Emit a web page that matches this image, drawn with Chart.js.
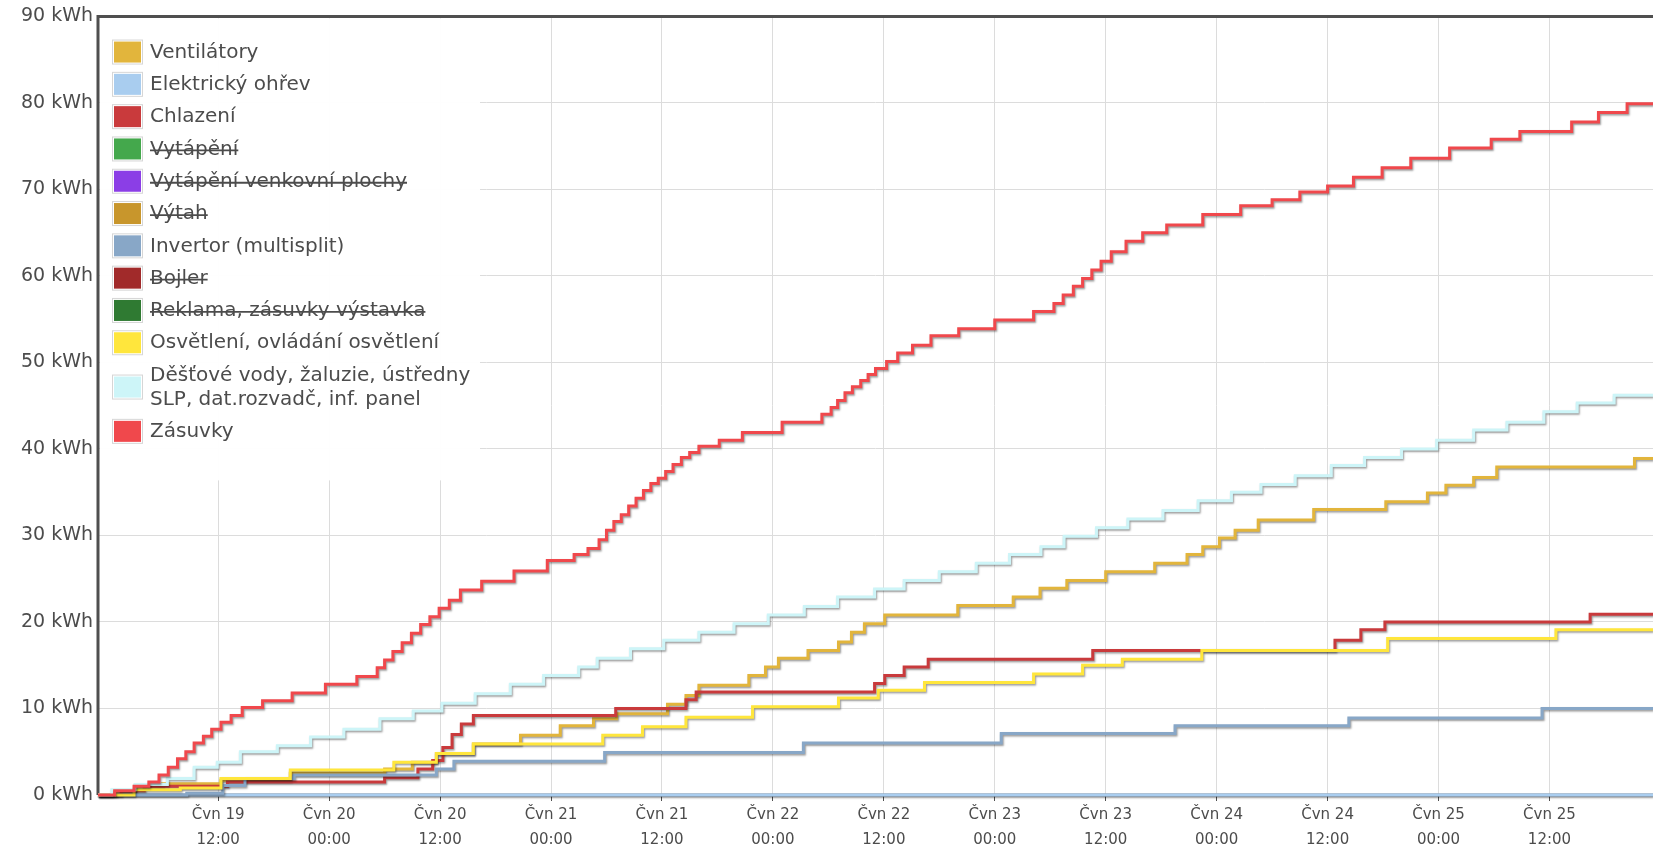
<!DOCTYPE html>
<html>
<head>
<meta charset="utf-8">
<title>Spotřeba energie</title>
<script src="https://cdn.jsdelivr.net/npm/chart.js@4.4.1/dist/chart.umd.min.js"></script>
<style>
  html, body { margin: 0; padding: 0; background: #fff; overflow: hidden; }
  canvas { display: block; }
</style>
</head>
<body>
<canvas id="energyChart" width="1653" height="852"></canvas>
<script>
// x values are hours counted from Čvn 19 00:00, y values are cumulative kWh
const xMin = -1;
const xMax = 167.2;
const xTickHours = [12, 24, 36, 48, 60, 72, 84, 96, 108, 120, 132, 144, 156];
const xTickLabels = [
  ['Čvn 19', '12:00'], ['Čvn 20', '00:00'], ['Čvn 20', '12:00'], ['Čvn 21', '00:00'],
  ['Čvn 21', '12:00'], ['Čvn 22', '00:00'], ['Čvn 22', '12:00'], ['Čvn 23', '00:00'],
  ['Čvn 23', '12:00'], ['Čvn 24', '00:00'], ['Čvn 24', '12:00'], ['Čvn 25', '00:00'],
  ['Čvn 25', '12:00']
];
const yMax = 90;
const yStep = 10;

const ventilatory = [[-1,0],[1,0.5],[3,1.0],[6,1.3],[12.3,1.7],[19.8,2.5],[30,3.0],[33,3.8],[35.6,4.8],[39.6,5.9],
  [44.7,6.9],[49,8.0],[52.6,8.8],[55.1,9.4],[60.6,10.5],[62.6,11.5],[64,12.7],[69.4,13.8],[71.2,14.8],[72.6,15.8],
  [75.8,16.7],[79.1,17.7],[80.5,18.8],[81.9,19.8],[84.1,20.8],[92,21.9],[98,22.9],[100.9,23.9],[103.8,24.8],[108,25.8],
  [113.3,26.8],[116.8,27.8],[118.5,28.7],[120.3,29.7],[122,30.6],[124.5,31.8],[130.5,33.0],[138.3,33.9],[142.8,34.9],
  [144.8,35.8],[147.8,36.7],[150.3,37.9],[165.2,38.9],[167.2,38.9]];
const elektrickyOhrev = [[-1,0],[167.2,0]];
const chlazeni = [[-1,0],[1.5,0.5],[4,1.0],[13,1.5],[30,2.0],[33.6,3.0],[35.2,4.0],[36.3,5.5],[37.3,7.0],[38.3,8.2],
  [39.6,9.2],[55,10.0],[62.6,11.0],[63.7,11.9],[83,12.9],[84.1,13.8],[86.2,14.8],[88.8,15.7],[106.6,16.7],[132.8,17.9],
  [135.6,19.1],[138.2,20.0],[160.4,20.9],[167.2,20.9]];
const invertor = [[-1,0],[8.6,0.2],[12.5,1.1],[14.9,1.9],[20.2,2.3],[35.6,3.0],[37.5,3.9],[53.8,4.9],[75.3,6.0],
  [96.7,7.1],[115.5,8.0],[134.3,8.9],[155.2,10.0],[167.2,10.0]];
const osvetleni = [[-1,0],[2.9,0.6],[7.9,0.8],[12.3,1.9],[19.8,2.9],[31,3.8],[35.6,4.8],[39.6,5.9],[53.6,6.9],
  [57.9,7.9],[62.6,9.0],[69.8,10.2],[79.1,11.2],[83.4,12.1],[88.4,13.0],[100.2,14.0],[105.5,15.0],[109.8,15.7],
  [118.4,16.7],[138.5,18.1],[156.7,19.1],[167.2,19.1]];
const destoveVody = [[-1,0],[0.5,0.6],[3,1.2],[6.5,1.9],[9.4,3.2],[11.9,3.8],[14.4,5.0],[18.4,5.7],[22,6.7],[25.6,7.6],
  [29.5,8.8],[33.1,9.7],[36.2,10.6],[39.8,11.7],[43.6,12.8],[47.2,13.8],[51,14.8],[53,15.8],[56.6,16.9],[60.2,17.9],
  [64,18.8],[67.8,19.8],[71.5,20.8],[75.4,21.8],[79,22.9],[83,23.8],[86.2,24.8],[90,25.8],[94,26.8],[97.6,27.8],
  [101,28.7],[103.5,29.9],[107,30.9],[110.4,31.9],[114.2,32.9],[118,34.0],[121.6,35.0],[124.8,35.9],[128.5,36.9],
  [132.4,38.1],[136,39.0],[140,40.0],[143.8,41.0],[147.8,42.2],[151.4,43.1],[155.4,44.3],[159,45.3],[163,46.2],
  [167.2,46.2]];
const zasuvky = [[-1,0],[0.8,0.5],[2.9,1.0],[4.5,1.5],[5.6,2.3],[6.6,3.2],[7.6,4.2],[8.5,5.0],[9.4,6.0],[10.4,6.8],
  [11.3,7.6],[12.3,8.4],[13.4,9.2],[14.6,10.1],[16.8,10.9],[20,11.8],[23.6,12.8],[27,13.7],[29.2,14.7],[30,15.6],
  [30.9,16.6],[31.9,17.6],[32.9,18.7],[33.9,19.7],[34.9,20.6],[35.9,21.6],[37,22.5],[38.2,23.7],[40.5,24.7],[44,25.9],
  [47.6,27.1],[50.5,27.8],[52,28.5],[53.2,29.5],[54,30.6],[54.8,31.6],[55.6,32.4],[56.4,33.4],[57.2,34.3],[58,35.2],
  [58.8,36.0],[59.6,36.6],[60.4,37.4],[61.2,38.2],[62.1,39.0],[63,39.6],[64,40.3],[66.2,41.0],[68.7,41.9],[73,43.1],
  [77.3,44.0],[78.3,44.8],[79,45.6],[79.8,46.5],[80.6,47.2],[81.5,47.9],[82.3,48.6],[83.1,49.3],[84.3,50.1],[85.5,51.1],
  [87.1,52.0],[89.1,53.1],[92.1,53.9],[96,54.9],[100.2,55.9],[102.4,56.8],[103.4,57.8],[104.5,58.8],[105.5,59.7],
  [106.5,60.7],[107.5,61.7],[108.6,62.8],[110.2,64.0],[112,65.0],[114.6,65.9],[118.5,67.1],[122.6,68.1],[126,68.8],
  [129,69.7],[132,70.4],[134.8,71.4],[137.9,72.5],[141,73.6],[145.2,74.8],[149.7,75.8],[152.8,76.7],[158.4,77.8],
  [161.3,78.9],[164.4,79.9],[167.2,79.9]];

const seriesNames = [
  'Ventilátory', 'Elektrický ohřev', 'Chlazení', 'Vytápění', 'Vytápění venkovní plochy', 'Výtah',
  'Invertor (multisplit)', 'Bojler', 'Reklama, zásuvky výstavka', 'Osvětlení, ovládání osvětlení',
  'Děšťové vody, žaluzie, ústředny\nSLP, dat.rozvadč, inf. panel', 'Zásuvky'
];
const seriesData = [ventilatory, elektrickyOhrev, chlazeni, [], [], [], invertor, [], [], osvetleni, destoveVody, zasuvky];
const seriesHidden = [false, false, false, true, true, true, false, true, true, false, false, false];
const seriesColors = ['#e2b53c', '#a9cdef', '#c93a3c', '#44a84c', '#8b3ee6', '#c8962c',
  '#88a7c7', '#a12a2a', '#2f7a32', '#ffe63c', '#cdf5f8', '#f0484c'];

const textColor = '#4c4c4c';
const fontFamily = '"DejaVu Sans", sans-serif';

// Legend drawn inside the plot, top-left, with strike-through for hidden series
const insideLegend = {
  id: 'insideLegend',
  beforeDatasetsDraw(chart) {
    const { ctx, chartArea } = chart;
    ctx.save();
    ctx.fillStyle = 'rgba(255,255,255,0.95)';
    ctx.fillRect(chartArea.left + 2, chartArea.top + 2, 380, 462);

    // frame: top, left, bottom
    ctx.strokeStyle = '#4f4f4f';
    ctx.lineWidth = 3;
    ctx.beginPath();
    ctx.moveTo(chartArea.left, chartArea.bottom);
    ctx.lineTo(chartArea.left, chartArea.top);
    ctx.lineTo(chartArea.right + 2, chartArea.top);
    ctx.stroke();
    ctx.strokeStyle = '#707a84';
    ctx.beginPath();
    ctx.moveTo(chartArea.left, chartArea.bottom);
    ctx.lineTo(chartArea.right + 2, chartArea.bottom);
    ctx.stroke();

    const lineH = 24;
    const gap = 8.3;
    const boxX = chartArea.left + 15;
    const textX = chartArea.left + 52;
    let top = chartArea.top + 20;
    ctx.font = '20px ' + fontFamily;
    ctx.textBaseline = 'middle';
    ctx.textAlign = 'left';
    chart.data.datasets.forEach((ds, i) => {
      const lines = ds.label.split('\n');
      const rowH = lines.length * lineH + gap;
      const cy = top + rowH / 2;
      ctx.strokeStyle = '#d6d6d6';
      ctx.lineWidth = 1;
      ctx.strokeRect(boxX - 0.5, cy - 12.5, 30, 24);
      ctx.fillStyle = seriesColors[i];
      ctx.fillRect(boxX + 1, cy - 11, 27, 21);
      ctx.fillStyle = textColor;
      lines.forEach((ln, j) => {
        const ty = cy - (lines.length - 1) * lineH / 2 + j * lineH;
        ctx.fillText(ln, textX, ty);
        if (!chart.isDatasetVisible(i)) {
          const w = ctx.measureText(ln).width;
          ctx.strokeStyle = textColor;
          ctx.lineWidth = 1.8;
          ctx.beginPath();
          ctx.moveTo(textX, ty + 1);
          ctx.lineTo(textX + w, ty + 1);
          ctx.stroke();
        }
      });
      top += rowH;
    });
    ctx.restore();
  }
};

// soft shadow under each line, like the original plot
const lineShadow = {
  id: 'lineShadow',
  beforeDatasetDraw(chart) {
    const ctx = chart.ctx;
    ctx.save();
    ctx.shadowColor = 'rgba(0,0,0,0.4)';
    ctx.shadowBlur = 2;
    ctx.shadowOffsetX = 1;
    ctx.shadowOffsetY = 1.5;
  },
  afterDatasetDraw(chart) {
    chart.ctx.restore();
  }
};

const datasets = seriesNames.map((name, i) => ({
  label: name,
  data: seriesData[i].map(([x, y]) => ({ x, y })),
  borderColor: seriesColors[i],
  backgroundColor: seriesColors[i],
  borderWidth: 3,
  pointRadius: 0,
  stepped: true,
  fill: false,
  hidden: seriesHidden[i],
  order: -i,
  clip: 6
}));

Chart.defaults.font.family = fontFamily;
Chart.defaults.color = textColor;

new Chart(document.getElementById('energyChart'), {
  type: 'line',
  data: { datasets },
  options: {
    responsive: false,
    devicePixelRatio: 1,
    animation: false,
    layout: { padding: { top: 16, right: 0, bottom: 0, left: 0 } },
    plugins: {
      legend: { display: false },
      tooltip: { enabled: false }
    },
    scales: {
      x: {
        type: 'linear',
        min: xMin,
        max: xMax,
        afterBuildTicks: (scale) => { scale.ticks = xTickHours.map(v => ({ value: v })); },
        afterFit: (scale) => { scale.height = 57; },
        border: { display: false },
        grid: { color: '#dcdcdc', lineWidth: 1, tickColor: '#4f4f4f', tickLength: 6 },
        ticks: {
          autoSkip: false,
          maxRotation: 0,
          padding: 2,
          color: textColor,
          font: { size: 15, lineHeight: '25px' },
          callback: (value, index) => xTickLabels[index]
        }
      },
      y: {
        min: 0,
        max: yMax,
        afterFit: (scale) => { scale.width = 98; },
        border: { display: false },
        grid: { color: '#dcdcdc', lineWidth: 1, drawTicks: false },
        ticks: {
          stepSize: yStep,
          padding: 5,
          color: textColor,
          font: { size: 19 },
          callback: (value) => value + ' kWh'
        }
      }
    }
  },
  plugins: [insideLegend, lineShadow]
});
</script>
</body>
</html>
